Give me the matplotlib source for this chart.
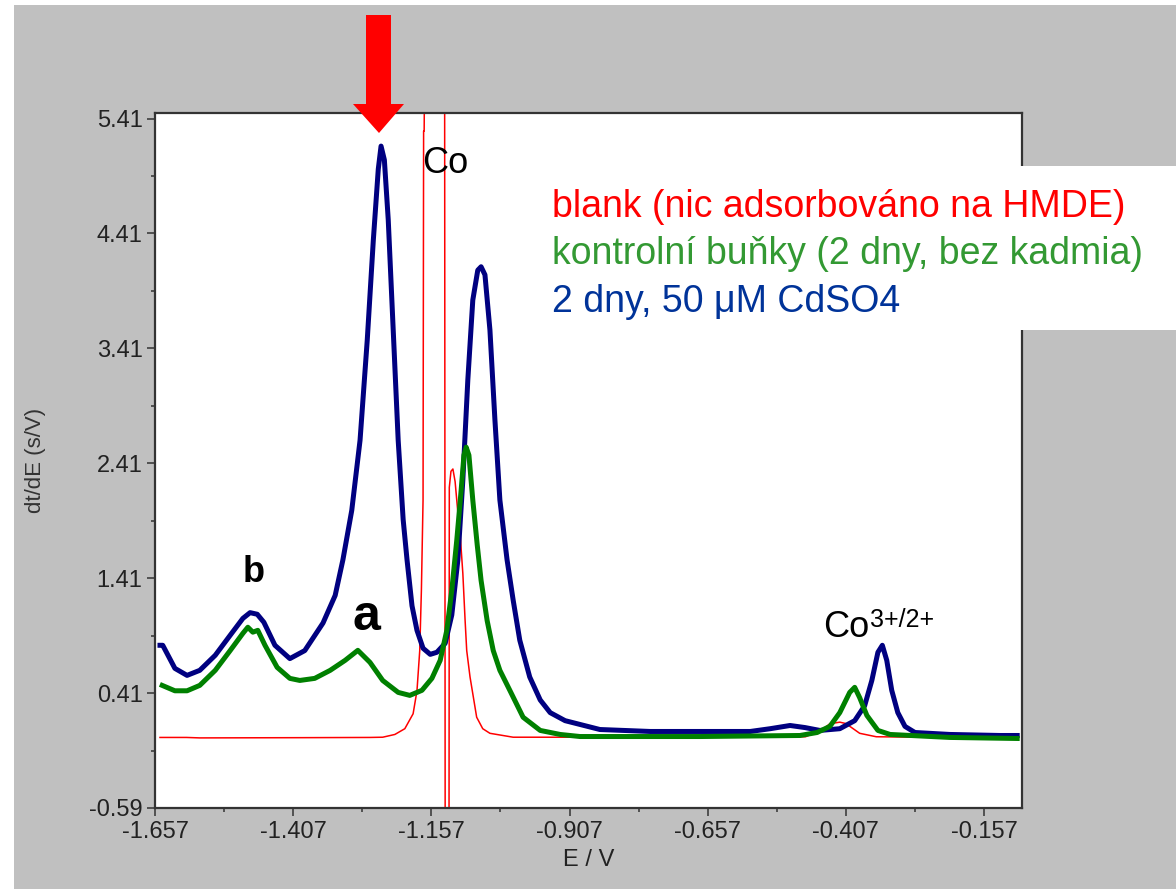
import numpy as np
import matplotlib
matplotlib.use("Agg")
import matplotlib.pyplot as plt
from matplotlib.patches import Rectangle, Polygon
from matplotlib.ticker import FixedLocator

plt.rcParams['font.family'] = ['Liberation Sans', 'DejaVu Sans']

# data (E in V, dt/dE in s/V)
blue_E = [-1.648, -1.643, -1.621, -1.599, -1.576, -1.548, -1.521, -1.498, -1.485, -1.472,
          -1.460, -1.440, -1.413, -1.386, -1.353, -1.331, -1.317, -1.301, -1.286, -1.273,
          -1.262, -1.253, -1.248, -1.242, -1.235, -1.226, -1.217, -1.208, -1.201, -1.192,
          -1.183, -1.172, -1.159, -1.147, -1.132, -1.120, -1.109, -1.100, -1.091, -1.082,
          -1.073, -1.067, -1.060, -1.051, -1.042, -1.033, -1.020, -1.009, -0.997, -0.979,
          -0.960, -0.942, -0.915, -0.888, -0.852, -0.761, -0.671, -0.580, -0.544, -0.508,
          -0.481, -0.454, -0.418, -0.391, -0.373, -0.360, -0.349, -0.341, -0.333, -0.324,
          -0.313, -0.300, -0.282, -0.219, -0.128, -0.097]
blue_v = [0.826, 0.826, 0.625, 0.564, 0.608, 0.739, 0.913, 1.06, 1.11, 1.096,
          1.026, 0.826, 0.71, 0.78, 1.02, 1.26, 1.57, 2.0, 2.61, 3.48,
          4.35, 4.97, 5.17, 5.05, 4.53, 3.57, 2.61, 1.92, 1.57, 1.17,
          0.956, 0.80, 0.747, 0.765, 0.843, 1.09, 1.57, 2.265, 3.135, 3.83,
          4.09, 4.12, 4.05, 3.57, 2.79, 2.09, 1.57, 1.22, 0.87, 0.55,
          0.35, 0.24, 0.17, 0.137, 0.093, 0.076, 0.076, 0.076, 0.10, 0.128,
          0.11, 0.085, 0.10, 0.17, 0.30, 0.52, 0.765, 0.826, 0.695, 0.434,
          0.24, 0.12, 0.067, 0.05, 0.041, 0.041]

green_E = [-1.644, -1.621, -1.599, -1.576, -1.548, -1.521, -1.498, -1.489, -1.480, -1.471,
           -1.458, -1.436, -1.413, -1.395, -1.368, -1.340, -1.313, -1.290, -1.268, -1.245,
           -1.217, -1.196, -1.174, -1.156, -1.141, -1.129, -1.120, -1.111, -1.103, -1.098,
           -1.094, -1.089, -1.082, -1.074, -1.067, -1.056, -1.045, -1.033, -1.015, -0.991,
           -0.960, -0.924, -0.888, -0.671, -0.490, -0.459, -0.436, -0.418, -0.400, -0.391,
           -0.382, -0.369, -0.349, -0.327, -0.219, -0.097]
green_v = [0.477, 0.43, 0.43, 0.477, 0.608, 0.78, 0.93, 0.983, 0.94, 0.956,
           0.826, 0.634, 0.538, 0.52, 0.538, 0.608, 0.695, 0.782, 0.677, 0.52,
           0.416, 0.39, 0.434, 0.538, 0.695, 0.956, 1.305, 1.74, 2.18, 2.48,
           2.55, 2.48, 2.09, 1.70, 1.39, 1.04, 0.78, 0.608, 0.434, 0.20,
           0.085, 0.05, 0.032, 0.032, 0.041, 0.067, 0.12, 0.24, 0.416, 0.46,
           0.37, 0.216, 0.085, 0.05, 0.024, 0.015]

red_E = [-1.648, -1.600, -1.576, -1.395, -1.268, -1.245, -1.223, -1.205, -1.190, -1.183,
         -1.178, -1.175, -1.172, -1.171, -1.170, -1.169, -1.133, -1.132, -1.125, -1.1245,
         -1.1215, -1.118, -1.114, -1.109, -1.105, -1.100, -1.096, -1.093, -1.087, -1.075,
         -1.064, -1.051, -1.009, -0.700, -0.480, -0.450, -0.436, -0.418, -0.407, -0.382,
         -0.352, -0.250, -0.097]
red_v = [0.024, 0.024, 0.020, 0.022, 0.024, 0.026, 0.05, 0.10, 0.23, 0.43,
         0.78, 1.305, 2.09, 5.30, 5.30, 6.00, 6.00, -0.70, -0.70, 2.20,
         2.34, 2.36, 2.25, 1.98, 1.80, 1.45, 1.05, 0.78, 0.55, 0.20,
         0.10, 0.06, 0.026, 0.026, 0.03, 0.09, 0.143, 0.157, 0.145, 0.06,
         0.03, 0.025, 0.022]

x_ticks = [-1.657, -1.407, -1.157, -0.907, -0.657, -0.407, -0.157]
x_labels = ['-1.657', '-1.407', '-1.157', '-0.907', '-0.657', '-0.407', '-0.157']
y_ticks = [-0.59, 0.41, 1.41, 2.41, 3.41, 4.41, 5.41]
y_labels = ['-0.59', '0.41', '1.41', '2.41', '3.41', '4.41', '5.41']

legend_lines = ['blank (nic adsorbováno na HMDE)',
                'kontrolní buňky (2 dny, bez kadmia)',
                '2 dny, 50 μM CdSO4']
legend_colors = ['#ff0000', '#339933', '#003399']

W, H = 1176, 889
fig = plt.figure(figsize=(W / 100, H / 100), dpi=100, facecolor='#c0c0c0')
# white margins at the left and top edges
fig.add_artist(Rectangle((0, 0), 14 / W, 1, transform=fig.transFigure,
                         facecolor='white', edgecolor='none', zorder=-1))
fig.add_artist(Rectangle((0, 1 - 5 / H), 1, 5 / H, transform=fig.transFigure,
                         facecolor='white', edgecolor='none', zorder=-1))

ax = fig.add_axes([155 / W, 81 / H, 867 / W, 695 / H])
ax.plot(red_E, red_v, color='#ff0000', lw=1.1, zorder=2)
ax.plot(blue_E, blue_v, color='#000080', lw=3.6, zorder=3, solid_joinstyle='round')
ax.plot(green_E, green_v, color='#008000', lw=3.6, zorder=4, solid_joinstyle='round')

ax.set_xlim(-1.657, -0.0883)
ax.set_ylim(-0.59, 5.458)
ax.xaxis.set_major_locator(FixedLocator(x_ticks))
ax.xaxis.set_minor_locator(FixedLocator([t + 0.125 for t in x_ticks]))
ax.yaxis.set_major_locator(FixedLocator(y_ticks))
ax.yaxis.set_minor_locator(FixedLocator([t + 0.5 for t in y_ticks[:-1]]))
ax.set_xticklabels(x_labels)
ax.set_yticklabels(y_labels)
ax.tick_params(which='major', direction='out', length=6, width=1.1, color='#333333',
               labelsize=17, labelcolor='#222222', pad=3)
ax.tick_params(which='minor', direction='out', length=3, width=1.1, color='#333333')
for s in ax.spines.values():
    s.set_linewidth(1.6)
    s.set_color('#333333')

ax.set_xlabel('E / V', fontsize=17, color='#222222', labelpad=5)
ax.set_ylabel('dt/dE (s/V)', fontsize=16, color='#333333', labelpad=31)

ax.text(-1.132, 5.02, 'Co', fontsize=26, ha='center', va='center')
ax.text(-1.478, 1.46, 'b', fontsize=26, fontweight='bold', ha='center', va='center')
ax.text(-1.274, 1.07, 'a', fontsize=36, fontweight='bold', ha='center', va='center')
ax.text(-0.448, 0.985, 'Co', fontsize=26, ha='left', va='center')
ax.text(-0.364, 1.05, '3+/2+', fontsize=18, ha='left', va='center')

# overlay in pixel coordinates for the arrow and the legend box
ov = fig.add_axes([0, 0, 1, 1], zorder=5)
ov.set_xlim(0, W)
ov.set_ylim(H, 0)
ov.axis('off')
ov.patch.set_alpha(0)
ov.add_patch(Polygon([(366, 15), (391, 15), (391, 104), (404, 104), (379, 133),
                      (353, 104), (366, 104)], closed=True,
                     facecolor='#ff0000', edgecolor='none'))
ov.add_patch(Rectangle((535, 166), W - 535, 164, facecolor='white', edgecolor='none'))
for i, (txt, col) in enumerate(zip(legend_lines, legend_colors)):
    ov.text(552, 207 + i * 47.5, txt, color=col, fontsize=27, ha='left', va='center')

fig.savefig('out.png', dpi=100, facecolor=fig.get_facecolor())
